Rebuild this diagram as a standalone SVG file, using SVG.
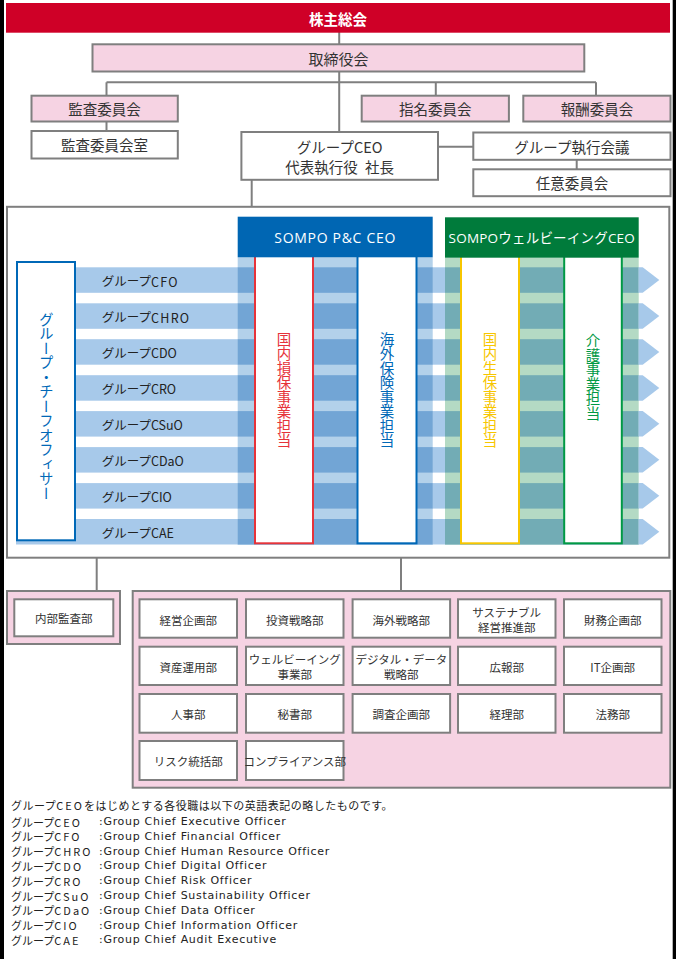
<svg xmlns="http://www.w3.org/2000/svg" width="676" height="959" viewBox="0 0 676 959">
<style>
text{font-family:"Noto Sans CJK JP","Noto Sans",sans-serif;}
.box{stroke:#7f7f7f;stroke-width:2;}
.pink{fill:#f6d3e3;}
.wh{fill:#fff;}
.t{font-size:14.5px;fill:#333;text-anchor:middle;dominant-baseline:central;}
.band{fill:#a7c9ea;}
.pcb{fill:#72a5d5;}
.pcg{fill:#b3d1ea;}
.wbb{fill:#72acb5;}
.wbg{fill:#b4dac4;}
.lbl{font-size:12.5px;fill:#222;dominant-baseline:central;}
.vt{font-size:14.5px;writing-mode:vertical-rl;}
.dept{font-size:11.5px;fill:#333;text-anchor:middle;dominant-baseline:central;}
.fn{font-size:11px;fill:#222;dominant-baseline:central;}
.en{font-family:"DejaVu Sans",sans-serif;letter-spacing:0.7px;}
.conn{stroke:#7f7f7f;stroke-width:2;fill:none;}
.hdr{font-family:"Open Sans","Noto Sans CJK JP",sans-serif;font-size:14px;fill:#fff;text-anchor:middle;dominant-baseline:central;}
</style>
<rect x="0" y="0" width="676" height="959" fill="#fff"/>
<rect x="0" y="0" width="4" height="959" fill="#000"/>
<rect x="672.7" y="0" width="3.3" height="959" fill="#000"/>

<g id="connectors" class="conn">
<line x1="339.2" y1="32" x2="339.2" y2="131"/>
<line x1="106.5" y1="82.3" x2="596" y2="82.3"/>
<line x1="106.5" y1="82.3" x2="106.5" y2="95.7"/>
<line x1="435.8" y1="82.3" x2="435.8" y2="95.7"/>
<line x1="596" y1="82.3" x2="596" y2="95.7"/>
<line x1="106.5" y1="121.5" x2="106.5" y2="131"/>
<line x1="438" y1="146.7" x2="473.3" y2="146.7"/>
<line x1="576.7" y1="159.8" x2="576.7" y2="169.3"/>
<line x1="251.7" y1="179.8" x2="251.7" y2="207"/>
<line x1="96.7" y1="557.7" x2="96.7" y2="591"/>
<line x1="401" y1="557.7" x2="401" y2="591"/>
</g>

<g id="shareholders">
<rect x="6" y="3" width="664" height="29.7" fill="#cf0027"/>
<text x="338" y="18.3" class="t" style="fill:#fff;font-weight:bold;font-size:14.5px">株主総会</text>
</g>
<g id="board">
<rect x="92.5" y="44.3" width="491.8" height="27.2" class="box pink"/>
<text x="338.4" y="58" class="t" style="font-size:15px">取締役会</text>
</g>
<g id="audit-committee">
<rect x="31.5" y="95.7" width="146.3" height="25.8" class="box pink"/>
<text x="104.6" y="108.6" class="t">監査委員会</text>
</g>
<g id="nomination-committee">
<rect x="361.7" y="95.7" width="147.2" height="25.8" class="box pink"/>
<text x="435.3" y="108.6" class="t">指名委員会</text>
</g>
<g id="compensation-committee">
<rect x="523.3" y="95.7" width="147.2" height="25.8" class="box pink"/>
<text x="596.9" y="108.6" class="t">報酬委員会</text>
</g>
<g id="audit-office">
<rect x="31.5" y="131" width="146.3" height="27.5" class="box wh"/>
<text x="104.6" y="144.8" class="t">監査委員会室</text>
</g>
<g id="group-ceo">
<rect x="241.4" y="132" width="196.6" height="47.8" class="box wh"/>
<text x="339.7" y="146.7" class="t">グループCEO</text>
<text x="339.7" y="166.5" class="t" word-spacing="4">代表執行役 社長</text>
</g>
<g id="exec-meeting">
<rect x="473.3" y="132.5" width="197.2" height="27.3" class="box wh"/>
<text x="571.9" y="146.2" class="t">グループ執行会議</text>
</g>
<g id="voluntary-committee">
<rect x="473.3" y="169.3" width="197.2" height="26.9" class="box wh"/>
<text x="571.9" y="182.8" class="t">任意委員会</text>
</g>

<g id="business-frame">
<rect x="7" y="206.8" width="662.3" height="350.9" fill="#fff" class="box"/>
</g>

<g id="officer-bands">
<rect x="16" y="267.3" width="622.7" height="25.5" class="band"/>
<rect x="16" y="303.3" width="622.7" height="25.5" class="band"/>
<rect x="16" y="339.2" width="622.7" height="25.5" class="band"/>
<rect x="16" y="375.2" width="622.7" height="25.5" class="band"/>
<rect x="16" y="411.1" width="622.7" height="25.5" class="band"/>
<rect x="16" y="447.1" width="622.7" height="25.5" class="band"/>
<rect x="16" y="483.1" width="622.7" height="25.5" class="band"/>
<rect x="16" y="519" width="622.7" height="25.5" class="band"/>
<rect x="237.7" y="257.3" width="195" height="287.2" class="pcg"/>
<rect x="237.7" y="267.3" width="195" height="25.5" class="pcb"/>
<rect x="237.7" y="303.3" width="195" height="25.5" class="pcb"/>
<rect x="237.7" y="339.2" width="195" height="25.5" class="pcb"/>
<rect x="237.7" y="375.2" width="195" height="25.5" class="pcb"/>
<rect x="237.7" y="411.1" width="195" height="25.5" class="pcb"/>
<rect x="237.7" y="447.1" width="195" height="25.5" class="pcb"/>
<rect x="237.7" y="483.1" width="195" height="25.5" class="pcb"/>
<rect x="237.7" y="519" width="195" height="25.5" class="pcb"/>
<rect x="445" y="257.7" width="193.7" height="286.8" class="wbg"/>
<rect x="445" y="267.3" width="193.7" height="25.5" class="wbb"/>
<rect x="445" y="303.3" width="193.7" height="25.5" class="wbb"/>
<rect x="445" y="339.2" width="193.7" height="25.5" class="wbb"/>
<rect x="445" y="375.2" width="193.7" height="25.5" class="wbb"/>
<rect x="445" y="411.1" width="193.7" height="25.5" class="wbb"/>
<rect x="445" y="447.1" width="193.7" height="25.5" class="wbb"/>
<rect x="445" y="483.1" width="193.7" height="25.5" class="wbb"/>
<rect x="445" y="519" width="193.7" height="25.5" class="wbb"/>
<polygon class="band" points="638.5,267.3 642.7,267.3 659.3,280.05 642.7,292.8 638.5,292.8"/>
<polygon class="band" points="638.5,303.3 642.7,303.3 659.3,316.05 642.7,328.8 638.5,328.8"/>
<polygon class="band" points="638.5,339.2 642.7,339.2 659.3,351.95 642.7,364.7 638.5,364.7"/>
<polygon class="band" points="638.5,375.2 642.7,375.2 659.3,387.95 642.7,400.7 638.5,400.7"/>
<polygon class="band" points="638.5,411.1 642.7,411.1 659.3,423.85 642.7,436.6 638.5,436.6"/>
<polygon class="band" points="638.5,447.1 642.7,447.1 659.3,459.85 642.7,472.6 638.5,472.6"/>
<polygon class="band" points="638.5,483.1 642.7,483.1 659.3,495.85 642.7,508.6 638.5,508.6"/>
<polygon class="band" points="638.5,519 642.7,519 659.3,531.75 642.7,544.5 638.5,544.5"/>
<text x="101.7" y="280.5" class="lbl">グループ<tspan letter-spacing="1.3">CFO</tspan></text>
<text x="101.7" y="316.5" class="lbl">グループ<tspan letter-spacing="1.3">CHRO</tspan></text>
<text x="101.7" y="352.4" class="lbl">グループCDO</text>
<text x="101.7" y="388.4" class="lbl">グループCRO</text>
<text x="101.7" y="424.3" class="lbl">グループCSuO</text>
<text x="101.7" y="460.3" class="lbl">グループCDaO</text>
<text x="101.7" y="496.3" class="lbl">グループCIO</text>
<text x="101.7" y="532.2" class="lbl">グループCAE</text>
</g>

<g id="chief-officers">
<rect x="17" y="262" width="58" height="278.3" fill="#fff" stroke="#0068b7" stroke-width="2"/>
<text x="46.3" y="312" class="vt" fill="#0068b7">グループ・チーフオフィサー</text>
</g>

<g id="domestic-pc">
<rect x="255" y="256" width="58" height="287.3" fill="#fff" stroke="#e6333a" stroke-width="2"/>
<text x="284" y="332" class="vt" fill="#e6333a">国内損保事業担当</text>
</g>
<g id="overseas-insurance">
<rect x="357.5" y="256" width="59" height="287.3" fill="#fff" stroke="#0068b7" stroke-width="2"/>
<text x="387" y="332" class="vt" fill="#0068b7">海外保険事業担当</text>
</g>
<g id="domestic-life">
<rect x="461" y="256" width="58" height="287.3" fill="#fff" stroke="#f7c600" stroke-width="2"/>
<text x="490" y="332" class="vt" fill="#f7c600">国内生保事業担当</text>
</g>
<g id="nursing-care">
<rect x="564.2" y="256" width="57.6" height="287.3" fill="#fff" stroke="#009944" stroke-width="2"/>
<text x="593" y="333.5" class="vt" fill="#009944">介護事業担当</text>
</g>

<g id="pc-ceo">
<rect x="237.7" y="216.7" width="195" height="40.6" fill="#0066b3"/>
<text x="335.2" y="237.5" class="hdr" letter-spacing="0.7">SOMPO P&amp;C CEO</text>
</g>
<g id="wellbeing-ceo">
<rect x="445" y="217.3" width="193.7" height="40.4" fill="#007b3b"/>
<text x="541.8" y="237.5" class="hdr" style="font-size:13.5px" letter-spacing="0.2">SOMPOウェルビーイングCEO</text>
</g>

<g id="internal-audit">
<rect x="7" y="591" width="113" height="53" class="box pink"/>
<rect x="14.3" y="599.3" width="99" height="37" class="box wh"/>
<text x="63.8" y="618" class="dept">内部監査部</text>
</g>

<g id="departments">
<rect x="132.7" y="591" width="537.6" height="196.7" class="box pink"/>
<g id="d-keiei"><rect x="139.5" y="599.3" width="97.5" height="38.4" class="box wh"/><text x="188.2" y="619.5" class="dept">経営企画部</text></g>
<g id="d-toshi"><rect x="246" y="599.3" width="97.5" height="38.4" class="box wh"/><text x="294.7" y="619.5" class="dept">投資戦略部</text></g>
<g id="d-kaigai"><rect x="352.6" y="599.3" width="97.5" height="38.4" class="box wh"/><text x="401.3" y="619.5" class="dept">海外戦略部</text></g>
<g id="d-sustainable"><rect x="458" y="599.3" width="97.5" height="38.4" class="box wh"/><text x="506.7" y="611.5" class="dept">サステナブル</text><text x="506.7" y="626.5" class="dept">経営推進部</text></g>
<g id="d-zaimu"><rect x="564" y="599.3" width="97.5" height="38.4" class="box wh"/><text x="612.7" y="619.5" class="dept">財務企画部</text></g>

<g id="d-shisan"><rect x="139.5" y="646.7" width="97.5" height="38.3" class="box wh"/><text x="188.2" y="666.5" class="dept">資産運用部</text></g>
<g id="d-wellbeing"><rect x="246" y="646.7" width="97.5" height="38.3" class="box wh"/><text x="294.7" y="659" class="dept">ウェルビーイング</text><text x="294.7" y="674" class="dept">事業部</text></g>
<g id="d-digital"><rect x="352.6" y="646.7" width="97.5" height="38.3" class="box wh"/><text x="401.3" y="659" class="dept">デジタル・データ</text><text x="401.3" y="674" class="dept">戦略部</text></g>
<g id="d-koho"><rect x="458" y="646.7" width="97.5" height="38.3" class="box wh"/><text x="506.7" y="666.5" class="dept">広報部</text></g>
<g id="d-it"><rect x="564" y="646.7" width="97.5" height="38.3" class="box wh"/><text x="612.7" y="666.5" class="dept">IT企画部</text></g>

<g id="d-jinji"><rect x="139.5" y="694" width="97.5" height="38.7" class="box wh"/><text x="188.2" y="713.8" class="dept">人事部</text></g>
<g id="d-hisho"><rect x="246" y="694" width="97.5" height="38.7" class="box wh"/><text x="294.7" y="713.8" class="dept">秘書部</text></g>
<g id="d-chosa"><rect x="352.6" y="694" width="97.5" height="38.7" class="box wh"/><text x="401.3" y="713.8" class="dept">調査企画部</text></g>
<g id="d-keiri"><rect x="458" y="694" width="97.5" height="38.7" class="box wh"/><text x="506.7" y="713.8" class="dept">経理部</text></g>
<g id="d-homu"><rect x="564" y="694" width="97.5" height="38.7" class="box wh"/><text x="612.7" y="713.8" class="dept">法務部</text></g>

<g id="d-risk"><rect x="139.5" y="741" width="97.5" height="39" class="box wh"/><text x="188.2" y="761" class="dept">リスク統括部</text></g>
<g id="d-compliance"><rect x="246" y="741" width="97.5" height="39" class="box wh"/><text x="294.7" y="761" class="dept">コンプライアンス部</text></g>
</g>

<g id="footnotes" class="fn">
<text x="11" y="805" letter-spacing="0.5">グループ<tspan letter-spacing="2">CEO</tspan>をはじめとする各役職は以下の英語表記の略したものです。</text>
<text x="11" y="821.5">グループ<tspan letter-spacing="2">CEO</tspan></text>
<text x="99" y="821.5" class="en">:Group Chief Executive Officer</text>
<text x="11" y="836.3">グループ<tspan letter-spacing="2">CFO</tspan></text>
<text x="99" y="836.3" class="en">:Group Chief Financial Officer</text>
<text x="11" y="851.1">グループ<tspan letter-spacing="2">CHRO</tspan></text>
<text x="99" y="851.1" class="en">:Group Chief Human Resource Officer</text>
<text x="11" y="865.9">グループ<tspan letter-spacing="2">CDO</tspan></text>
<text x="99" y="865.9" class="en">:Group Chief Digital Officer</text>
<text x="11" y="880.7">グループ<tspan letter-spacing="2">CRO</tspan></text>
<text x="99" y="880.7" class="en">:Group Chief Risk Officer</text>
<text x="11" y="895.5">グループ<tspan letter-spacing="2">CSuO</tspan></text>
<text x="99" y="895.5" class="en">:Group Chief Sustainability Officer</text>
<text x="11" y="910.3">グループ<tspan letter-spacing="2">CDaO</tspan></text>
<text x="99" y="910.3" class="en">:Group Chief Data Officer</text>
<text x="11" y="925.1">グループ<tspan letter-spacing="2">CIO</tspan></text>
<text x="99" y="925.1" class="en">:Group Chief Information Officer</text>
<text x="11" y="939.9">グループ<tspan letter-spacing="2">CAE</tspan></text>
<text x="99" y="939.9" class="en">:Group Chief Audit Executive</text>
</g>
</svg>
